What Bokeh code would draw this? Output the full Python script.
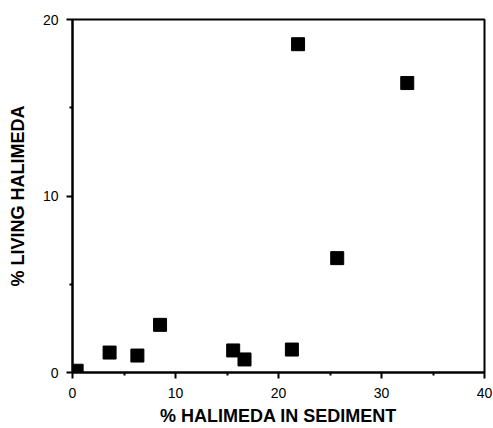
from bokeh.plotting import figure
from bokeh.models import Range1d, FixedTicker
from bokeh.embed import file_html
from bokeh.resources import INLINE

sediment_pct = [0.4, 3.6, 6.3, 8.5, 15.6, 16.7, 21.3, 21.9, 25.7, 32.5]
living_pct = [0.1, 1.13, 0.96, 2.7, 1.25, 0.74, 1.3, 18.6, 6.48, 16.4]
x_ticks = [0, 10, 20, 30, 40]
x_minor = [5, 15, 25, 35]
y_ticks = [0, 10, 20]
y_minor = [5, 15]

p = figure(width=492, height=428, output_backend="svg", toolbar_location=None,
           x_range=Range1d(0, 40), y_range=Range1d(0, 20),
           min_border_left=72, min_border_right=8, min_border_top=19, min_border_bottom=56)
p.background_fill_color = "white"
p.border_fill_color = "white"
p.outline_line_color = "black"
p.outline_line_width = 2
p.grid.visible = False

p.scatter(sediment_pct, living_pct, marker="square", size=13, fill_color="black", line_color="black")

font = "Liberation Sans"
p.xaxis.ticker = FixedTicker(ticks=x_ticks, minor_ticks=x_minor)
p.yaxis.ticker = FixedTicker(ticks=y_ticks, minor_ticks=y_minor)
for ax in (p.xaxis[0], p.yaxis[0]):
    ax.axis_line_width = 2
    ax.axis_line_color = "black"
    ax.major_tick_line_width = 2
    ax.minor_tick_line_width = 2
    ax.major_tick_in = 0
    ax.minor_tick_in = 0
    ax.major_tick_out = 6
    ax.minor_tick_out = 3
    ax.major_label_text_font = font
    ax.major_label_text_font_size = "14px"
    ax.major_label_text_color = "black"
    ax.axis_label_text_font = font
    ax.axis_label_text_font_style = "bold"
    ax.axis_label_text_font_size = "18px"
    ax.axis_label_text_color = "black"

p.xaxis.axis_label = "% HALIMEDA IN SEDIMENT"
p.yaxis.axis_label = "% LIVING HALIMEDA"
p.xaxis.major_label_standoff = 9
p.xaxis.axis_label_standoff = 5
p.yaxis.major_label_standoff = 8
p.yaxis.axis_label_standoff = 12

open("out.html", "w").write(file_html(p, INLINE))
